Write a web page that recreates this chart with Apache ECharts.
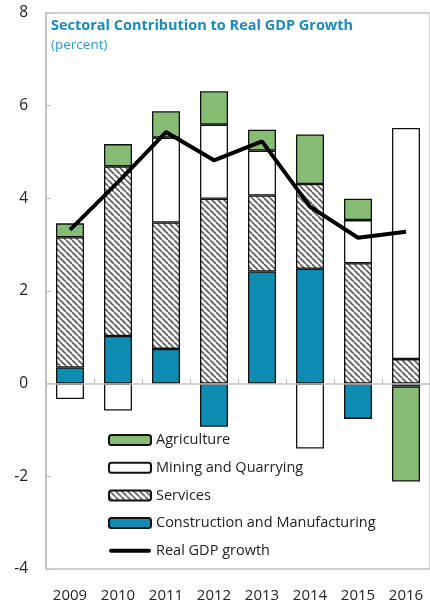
<!DOCTYPE html>
<html><head><meta charset="utf-8">
<script src="https://cdn.jsdelivr.net/npm/echarts@6/dist/echarts.min.js"></script>
<style>html,body{margin:0;padding:0;background:#fff}#c{width:430px;height:605px}</style>
</head><body><div id="c"></div>
<script>
const years = ['2009','2010','2011','2012','2013','2014','2015','2016'];
const construction = [0.35, 1.03, 0.75, -0.93, 2.42, 2.48, -0.76, -0.06];
const services =     [2.81, 3.66, 2.73, 3.99, 1.64, 1.83, 2.60, 0.53];
const mining =       [-0.33, -0.58, 1.83, 1.60, 0.97, -1.40, 0.93, 4.99];
const agriculture =  [0.30, 0.48, 0.57, 0.72, 0.45, 1.07, 0.46, -2.05];
const gdp =          [3.32, 4.35, 5.43, 4.82, 5.23, 3.82, 3.15, 3.28];
const yTicks = [-4, 8, 2];

const FONT = 'Open Sans';
function hatch() {
  const s = 6, c = document.createElement('canvas');
  c.width = s; c.height = s;
  const g = c.getContext('2d');
  g.fillStyle = '#fff'; g.fillRect(0, 0, s, s);
  g.strokeStyle = '#5a5a5a'; g.lineWidth = 1.6;
  for (const k of [-s, 0, s]) { g.beginPath(); g.moveTo(k, 0); g.lineTo(k + s, s); g.stroke(); }
  return {image: c, repeat: 'repeat'};
}
const border = {borderColor: '#111', borderWidth: 1.3};
function bar(name, data, color) {
  return {name, type: 'bar', stack: 'a', barWidth: 28, data, xAxisIndex: 0,
    itemStyle: Object.assign({color}, border), emphasis: {disabled: true}};
}
const lineIcon = 'path://M0,0L42,0L42,0Z M2,3L40,3A2,2 0 0 1 40,7L2,7A2,2 0 0 1 2,3Z M0,10L42,10L42,10Z';
const chart = echarts.init(document.getElementById('c'), null, {renderer: 'canvas'});
chart.setOption({
  animation: false,
  title: {
    text: 'Sectoral Contribution to Real GDP Growth', subtext: '(percent)',
    left: 51, top: 18, itemGap: 5, padding: 0,
    textStyle: {fontFamily: FONT, fontSize: 14.5, fontWeight: 'bold', color: '#1a8bbd'},
    subtextStyle: {fontFamily: FONT, fontSize: 13.5, color: '#2b9ccf'}
  },
  grid: {left: 46, top: 13, width: 386, height: 556, show: true, borderColor: '#c0c0c0', borderWidth: 1.5, backgroundColor: 'transparent'},
  legend: {
    orient: 'vertical', left: 108, top: 432, itemWidth: 42, itemHeight: 10, itemGap: 11.7, padding: 0,
    data: ['Agriculture', 'Mining and Quarrying', 'Services', 'Construction and Manufacturing',
      {name: 'Real GDP growth', icon: lineIcon}],
    textStyle: {fontFamily: FONT, fontSize: 14.5, color: '#222', lineHeight: 16},
    selectedMode: false
  },
  xAxis: [
    {type: 'category', data: years, position: 'bottom', axisLine: {show: false, onZero: false}, axisTick: {show: false},
     axisLabel: {interval: 0, fontFamily: FONT, fontSize: 15, color: '#222', margin: 19}},
    {type: 'category', data: years, z: 3, axisLine: {onZero: true, lineStyle: {color: '#c0c0c0', width: 1.5}},
     axisTick: {show: true, inside: false, length: 5, lineStyle: {color: '#c0c0c0'}}, axisLabel: {show: false}}
  ],
  yAxis: {type: 'value', min: yTicks[0], max: yTicks[1], interval: yTicks[2],
    axisLine: {show: true, lineStyle: {color: '#c0c0c0', width: 1.5}},
    axisTick: {show: true, inside: true, length: 5, lineStyle: {color: '#c0c0c0'}},
    splitLine: {show: false},
    axisLabel: {fontFamily: FONT, fontSize: 15.5, color: '#222', margin: 18}},
  series: [
    bar('Construction and Manufacturing', construction, '#0f8cb2'),
    bar('Services', services, hatch()),
    bar('Mining and Quarrying', mining, '#ffffff'),
    bar('Agriculture', agriculture, '#86bc74'),
    {name: 'Real GDP growth', type: 'line', data: gdp, symbol: 'none', z: 5, xAxisIndex: 0,
     lineStyle: {color: '#000', width: 4}, itemStyle: {color: '#000'}, emphasis: {disabled: true}}
  ]
});
</script></body></html>
